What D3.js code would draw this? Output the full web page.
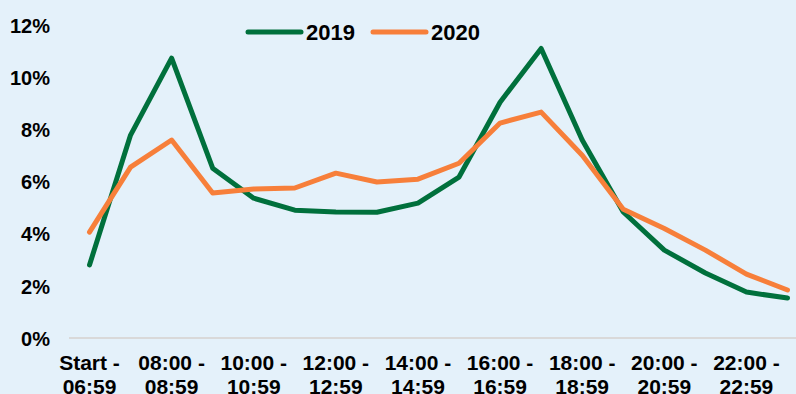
<!DOCTYPE html>
<html>
<head>
<meta charset="utf-8">
<script src="https://cdn.jsdelivr.net/npm/d3@7"></script>
<style>
  html, body { margin: 0; padding: 0; background: #E4F1FA; }
  svg { display: block; }
  text { font-family: "Liberation Sans", Arial, sans-serif; font-weight: bold; fill: #000; }
</style>
</head>
<body>
<svg id="chart" width="796" height="394"></svg>
<script>
const categories = [
  "Start - 06:59", "07:00 - 07:59", "08:00 - 08:59", "09:00 - 09:59",
  "10:00 - 10:59", "11:00 - 11:59", "12:00 - 12:59", "13:00 - 13:59",
  "14:00 - 14:59", "15:00 - 15:59", "16:00 - 16:59", "17:00 - 17:59",
  "18:00 - 18:59", "19:00 - 19:59", "20:00 - 20:59", "21:00 - 21:59",
  "22:00 - 22:59", "23:00 - 23:59"
];
const series2019 = [2.8, 7.78, 10.73, 6.51, 5.36, 4.9, 4.83, 4.82, 5.17, 6.17, 9.04, 11.1, 7.59, 4.83, 3.37, 2.49, 1.76, 1.53];
const series2020 = [4.06, 6.55, 7.59, 5.56, 5.71, 5.75, 6.32, 5.98, 6.09, 6.7, 8.24, 8.66, 7.01, 4.94, 4.2, 3.37, 2.45, 1.84];
const yTicks = [0, 2, 4, 6, 8, 10, 12];
const seriesNames = ["2019", "2020"];
const colors = ["#00703C", "#F77F3A"];

const svg = d3.select("#chart");

const x = d3.scalePoint().domain(categories).range([89.5, 787.5]);
const y = d3.scaleLinear().domain([0, 12]).range([338, 25]);

// y axis labels
const yAxis = d3.axisLeft(y).tickValues(yTicks).tickFormat(d => d + "%").tickSize(0).tickPadding(0);
const yG = svg.append("g").attr("transform", "translate(50,0)").call(yAxis);
yG.select(".domain").remove();
yG.selectAll("text").style("font-size", "20px").attr("dy", "0.36em").attr("fill", "#000");

// x axis baseline
const xAxis = d3.axisBottom(x).tickSize(0).tickFormat("");
const xG = svg.append("g").attr("transform", "translate(0,338)").call(xAxis);
xG.select(".domain").attr("stroke", "#D9D9D9").attr("stroke-width", 2)
  .attr("d", "M69,0H796");

// x labels (every other category)
const labelG = svg.append("g");
categories.forEach((c, i) => {
  if (i % 2 !== 0) return;
  const parts = c.split(" - ");
  const t = labelG.append("text")
    .attr("x", x(c))
    .attr("text-anchor", "middle")
    .style("font-size", "21px");
  t.append("tspan").attr("x", x(c)).attr("y", 370).text(parts[0] + " -");
  t.append("tspan").attr("x", x(c)).attr("y", 394).text(parts[1]);
});

// lines
const line = d3.line().x((d, i) => x(categories[i])).y(d => y(d));
[series2019, series2020].forEach((s, k) => {
  svg.append("path")
    .datum(s)
    .attr("fill", "none")
    .attr("stroke", colors[k])
    .attr("stroke-width", 5)
    .attr("stroke-linejoin", "round")
    .attr("stroke-linecap", "round")
    .attr("d", line);
});

// legend
const legend = svg.append("g").attr("transform", "translate(0,32)");
const legendX = [248, 373];
seriesNames.forEach((n, k) => {
  legend.append("line")
    .attr("x1", legendX[k]).attr("x2", legendX[k] + 53)
    .attr("y1", 0).attr("y2", 0)
    .attr("stroke", colors[k]).attr("stroke-width", 5)
    .attr("stroke-linecap", "round");
  legend.append("text")
    .attr("x", legendX[k] + 58).attr("y", 0).attr("dy", "0.36em")
    .style("font-size", "22px")
    .text(n);
});
</script>
</body>
</html>
